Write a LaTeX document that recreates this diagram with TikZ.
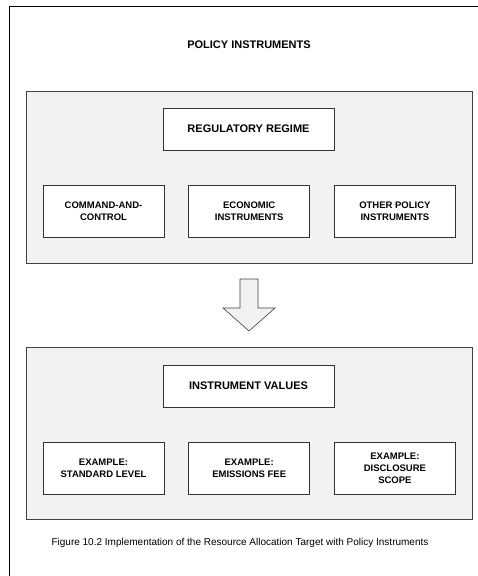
\documentclass[tikz,border=0pt]{standalone}
\usepackage{fontspec}
\setmainfont{Liberation Sans}
\usetikzlibrary{positioning}

\begin{document}
\begin{tikzpicture}[
  x=1pt, y=-1pt,
  node distance=24pt,
  panel/.style={draw=black!75, fill=gray!10, line width=0.9pt, minimum width=446pt, minimum height=172pt},
  head/.style={draw=black!80, fill=white, line width=0.7pt, minimum width=171pt, minimum height=42pt, font=\bfseries\fontsize{11}{13}\selectfont},
  item/.style={draw=black!80, fill=white, line width=0.7pt, minimum width=121pt, minimum height=52pt, align=center, font=\bfseries\fontsize{9.5}{12}\selectfont}
]
  \useasboundingbox (0,0) rectangle (478,576);
  % outer frame
  \draw[line width=0.9pt] (9,600) -- (9,6) -- (500,6);
  \node[font=\bfseries\fontsize{11}{13}\selectfont] (title) at (249,45) {POLICY INSTRUMENTS};

  % upper panel
  \node[panel] (regpanel) at (249,177) {};
  \node[head] (regime) at (248.5,129) {REGULATORY REGIME};
  \node[item] (cac) at (103.5,211) {COMMAND-AND-\\CONTROL};
  \node[item, right=of cac] (econ) {ECONOMIC\\INSTRUMENTS};
  \node[item, right=of econ] (other) {OTHER POLICY\\INSTRUMENTS};

  % block arrow
  \draw[draw=black!75, fill=gray!10, line width=0.6pt]
    (240,279) -- (258,279) -- (258,308) -- (275,308) -- (249,331) -- (223,308) -- (240,308) -- cycle;

  % lower panel
  \node[panel] (valpanel) at (249,433.5) {};
  \node[head] (values) at (248.5,386) {INSTRUMENT VALUES};
  \node[item] (level) at (103.5,468) {EXAMPLE:\\STANDARD LEVEL};
  \node[item, right=of level] (fee) {EXAMPLE:\\EMISSIONS FEE};
  \node[item, right=of fee] (scope) {EXAMPLE:\\DISCLOSURE\\SCOPE};

  \node[font=\fontsize{10}{12}\selectfont] (caption) at (240,543) {Figure 10.2 Implementation of the Resource Allocation Target with Policy Instruments};
\end{tikzpicture}
\end{document}
